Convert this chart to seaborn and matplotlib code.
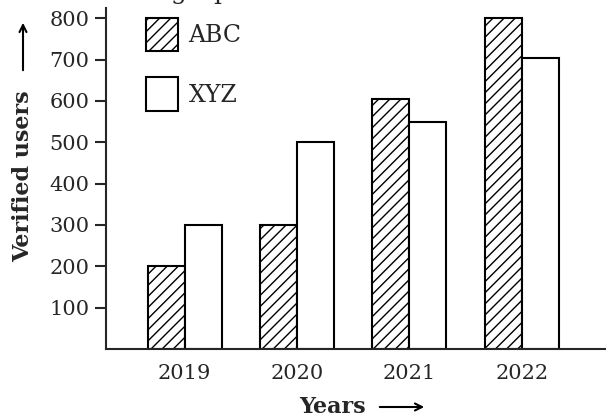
import numpy as np
import pandas as pd
import seaborn as sns
from matplotlib import pyplot as plt
from matplotlib.patches import Patch

years = ["2019", "2020", "2021", "2022"]
abc_users = [200, 300, 605, 800]
xyz_users = [300, 500, 550, 705]
yticks = [100, 200, 300, 400, 500, 600, 700, 800]

df = pd.DataFrame({
    "year": years * 2,
    "users": abc_users + xyz_users,
    "company": ["ABC"] * len(years) + ["XYZ"] * len(years),
})

sns.set_style("ticks")
plt.rcParams['font.family'] = ['DejaVu Serif', 'DejaVu Sans']
plt.rcParams['hatch.linewidth'] = 1.0

fig = plt.figure(figsize=(6.06, 4.18), dpi=100)
W, H = 606, 418
ax = fig.add_axes([106 / W, 1 - 349 / H, 1 - 106 / W, (349 - 8) / H])

sns.barplot(data=df, x="year", y="users", hue="company", ax=ax,
            palette=["white", "white"], edgecolor="black", linewidth=1.5,
            width=0.66, dodge=True, legend=False, saturation=1)

for bar in ax.containers[0]:
    bar.set_hatch("///")

ax.set_xlim(-0.70, 3.75)
ax.set_ylim(0, 825)
ax.set_yticks(yticks)
ax.tick_params(axis="y", length=8, width=1.5, labelsize=15, pad=4)
ax.tick_params(axis="x", length=0, labelsize=15, pad=11)
for s in ["top", "right"]:
    ax.spines[s].set_visible(False)
for s in ["left", "bottom"]:
    ax.spines[s].set_linewidth(1.5)
ax.set_xlabel("")
ax.set_ylabel("")

# axis labels with long arrows
fig.text(23 / W, 1 - 176 / H, "Verified users", rotation=90, ha="center", va="center",
         fontsize=16, fontweight="bold")
fig.text(332 / W, 1 - 407 / H, "Years", ha="center", va="center",
         fontsize=16, fontweight="bold")
arrow = dict(arrowstyle="->,head_length=0.5,head_width=0.25", lw=1.5, color="black")
fig.add_artist(plt.Annotation("", xy=(23 / W, 1 - 20 / H), xytext=(23 / W, 1 - 73 / H),
                              xycoords="figure fraction", arrowprops=arrow))
fig.add_artist(plt.Annotation("", xy=(427 / W, 1 - 407 / H), xytext=(377 / W, 1 - 407 / H),
                              xycoords="figure fraction", arrowprops=arrow))

handles = [Patch(facecolor="white", edgecolor="black", hatch="///", linewidth=1.5, label="ABC"),
           Patch(facecolor="white", edgecolor="black", linewidth=1.5, label="XYZ")]
fig.legend(handles=handles, loc="upper left", bbox_to_anchor=(127 / W, 1 + 1 / H),
           frameon=False, fontsize=17, handlelength=1.35, handleheight=1.8,
           handletextpad=0.45, labelspacing=1.1, borderpad=0.3)

# title line cut off at the top edge of the source image
fig.text(120 / W, 1 + 1 / H, "bar graph", fontsize=18, va="baseline", ha="left")

fig.savefig("out.png", dpi=100)
